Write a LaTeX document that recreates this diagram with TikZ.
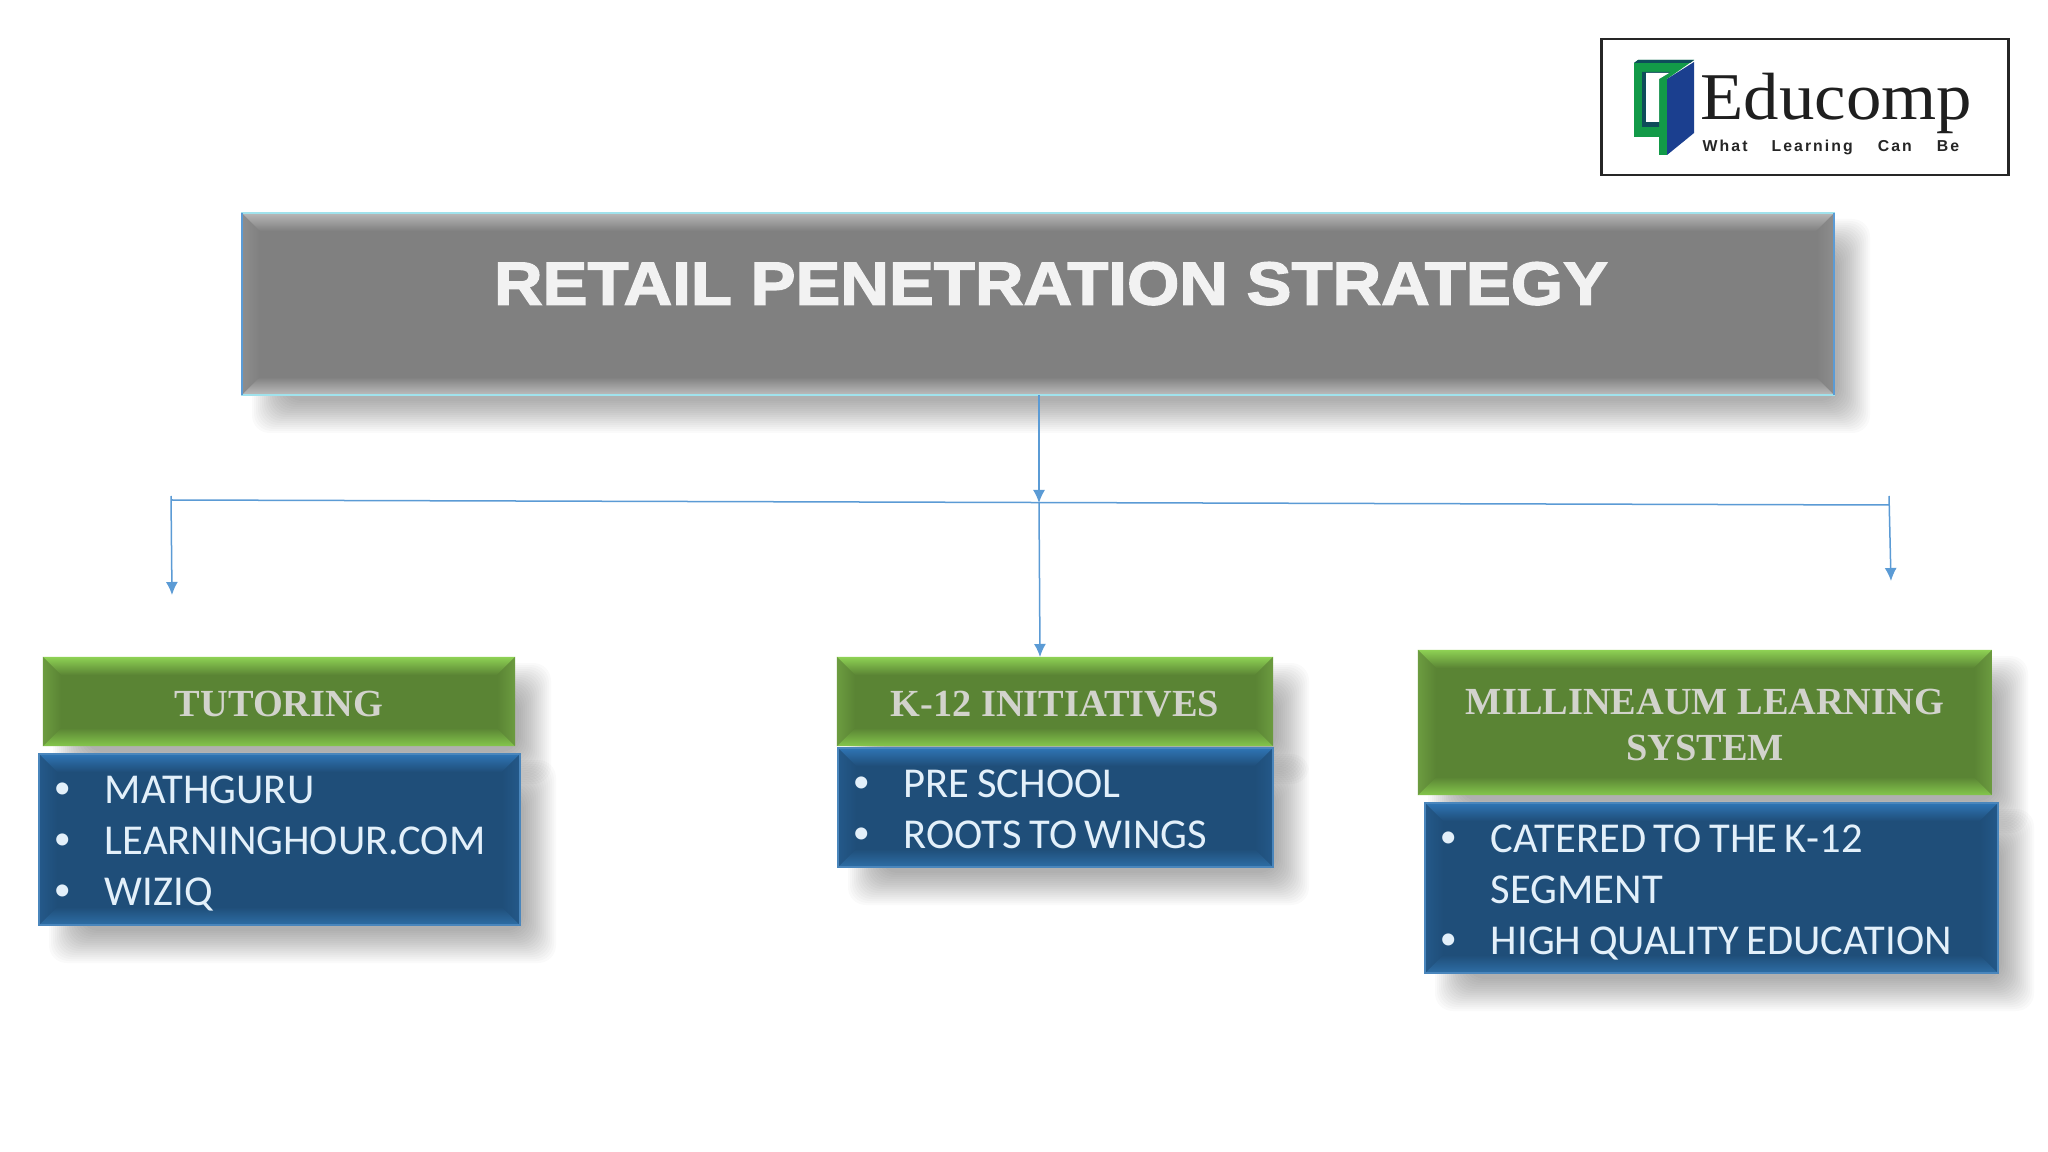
\documentclass[tikz,border=0pt]{standalone}
\usepackage{fontspec}
\setmainfont{Carlito}
\newfontfamily\titlefont{Liberation Sans Bold}[FakeStretch=1.106,FakeBold=2.2]
\newfontfamily\headfont{Liberation Serif Bold}
\newfontfamily\logofont{Liberation Serif}[FakeStretch=1.06]
\newfontfamily\tagfont{Liberation Sans Bold}[LetterSpace=13]
\usetikzlibrary{arrows.meta}
\definecolor{linkblue}{HTML}{5B9BD5}
\definecolor{listtext}{HTML}{E3F0FA}
\definecolor{headtext}{HTML}{D2D3CC}
\definecolor{logogreen}{HTML}{129A48}
\definecolor{logoblue}{HTML}{1B3F8F}
\definecolor{logoteal}{HTML}{0E4C5A}
\definecolor{greybody}{HTML}{808080}
\definecolor{greyedge}{HTML}{B8B8B8}
\definecolor{greylow}{HTML}{BDBDBD}
\definecolor{greyside}{HTML}{8E8E8E}
\definecolor{greyline}{HTML}{A0E2EC}
\definecolor{greenbody}{HTML}{5A8434}
\definecolor{greenedge}{HTML}{8ED154}
\definecolor{greenlow}{HTML}{84C64C}
\definecolor{greenside}{HTML}{6C9C40}
\definecolor{bluebody}{HTML}{1F4E79}
\definecolor{blueedge}{HTML}{2F75B5}
\definecolor{bluelow}{HTML}{2E6EA6}
\definecolor{blueside}{HTML}{24598A}
\definecolor{blueline}{HTML}{4A86BC}
\tikzset{
  % bevel: body colour, outer edge top, outer edge bottom, outer edge sides, depth
  panel/.style n args={5}{
    inner sep=0pt, outer sep=0pt, fill=#1,
    path picture={
      \coordinate (nw) at (path picture bounding box.north west);
      \coordinate (se) at (path picture bounding box.south east);
      \coordinate (ne) at (path picture bounding box.north east);
      \coordinate (sw) at (path picture bounding box.south west);
      \path[top color=#2,bottom color=#1]
        (nw) -- (ne) -- ([xshift=-#5,yshift=-#5]ne) -- ([xshift=#5,yshift=-#5]nw) -- cycle;
      \path[bottom color=#3,top color=#1]
        (sw) -- (se) -- ([xshift=-#5,yshift=#5]se) -- ([xshift=#5,yshift=#5]sw) -- cycle;
      \path[left color=#4,right color=#1]
        (nw) -- (sw) -- ([xshift=#5,yshift=#5]sw) -- ([xshift=#5,yshift=-#5]nw) -- cycle;
      \path[right color=#4,left color=#1]
        (ne) -- (se) -- ([xshift=-#5,yshift=#5]se) -- ([xshift=-#5,yshift=-#5]ne) -- cycle;
    }},
  greybox/.style={panel={greybody}{greyedge}{greylow}{greyside}{0.18cm},draw=greyline,line width=0.2mm},
  greenbox/.style={panel={greenbody}{greenedge}{greenlow}{greenside}{0.18cm}},
  bluebox/.style={panel={bluebody}{blueedge}{bluelow}{blueside}{0.18cm},draw=blueline,line width=0.15mm},
  headtxt/.style={font=\headfont\fontsize{10.9}{13.2}\selectfont,text=headtext,align=center},
  listtxt/.style={font=\fontsize{12.1}{14.5}\selectfont,text=listtext,align=left},
  link/.style={linkblue,line width=0.15mm},
  linkarrow/.style={link,-{Latex[length=1.3mm,width=1.2mm]}}
}
% name, x1, y1, x2, y2, style, text (reference pixels)
\newcommand{\panelbox}[7]{
  \foreach \g in {16,14,...,-16}
    \fill[black,opacity=0.021,rounded corners=5]
      (#2+26+\g,#3+22+\g) rectangle (#4+20-\g,#5+22-\g);
  \pgfmathsetmacro{\pw}{(#4-#2)/100}
  \pgfmathsetmacro{\ph}{(#5-#3)/100}
  \node[#6,minimum width=\pw cm,minimum height=\ph cm] (#1) at ({(#2+#4)/2},{(#3+#5)/2}) {#7};
}
\newcommand{\itembullet}{\raisebox{0.25ex}{\scalebox{0.8}{\textbullet}}}
\newcommand{\headlines}[1]{\raisebox{-0.156cm}[0pt][0pt]{\begin{tabular}{@{}c@{}}#1\end{tabular}}}
\newcommand{\listlines}[1]{\raisebox{-0.156cm}[0pt][0pt]{\spaceskip=0.18em\relax\begin{tabular}{@{}l@{\hspace{0.34cm}}l@{}}#1\end{tabular}}}
\begin{document}
\begin{tikzpicture}[x=0.01cm,y=-0.01cm]
  \useasboundingbox (0,0) rectangle (2048,1152);
  \fill[white] (0,0) rectangle (2048,1152);

  % - Logo
  \node[draw=black!85,line width=0.25mm,minimum width=4.07cm,minimum height=1.36cm,inner sep=0pt] (logo) at (1805,107) {};
  \fill[logogreen] (1634,63) -- (1638,60) -- (1694,60) -- (1667,79) -- (1667,155) -- (1659,155) -- (1659,137) -- (1634,137) -- cycle;
  \fill[logoteal] (1634,63) -- (1638,60) -- (1694,60) -- (1690,63) -- cycle;
  \fill[logoteal] (1642,72) -- (1670,72) -- (1659,79) -- (1659,127) -- (1642,127) -- cycle;
  \fill[white] (1646,73) -- (1669,73) -- (1659,79) -- (1659,122) -- (1646,122) -- cycle;
  \fill[logoblue] (1667,79) -- (1694,62) -- (1694,133) -- (1667,155) -- cycle;
  \node[font=\logofont\fontsize{19}{21}\selectfont,text=black!88,anchor=base west,inner sep=0pt] (logoname) at (1700,120) {Educomp};
  \node[font=\tagfont\fontsize{4.5}{5}\selectfont,text=black!85,anchor=base west,inner sep=0pt] (logotag) at (1702,152) {What\hspace{2.4mm}Learning\hspace{2.5mm}Can\hspace{2.5mm}Be};

  % - Title box
  \panelbox{title}{242}{213}{1834}{395}{greybox}{\raisebox{-0.006cm}[0pt][0pt]{\hspace*{0.26cm}\titlefont\fontsize{17.3}{20}\selectfont\textcolor{white!95!black}{RETAIL PENETRATION STRATEGY}}}
  \draw[linkblue,line width=0.2mm] (title.north west) -- (title.south west);
  \draw[linkblue,line width=0.2mm] (title.north east) -- (title.south east);

  % - Column boxes
  \panelbox{tutorhead}{43}{657}{515}{746}{greenbox,headtxt}{\headlines{TUTORING}}
  \panelbox{tutorlist}{39}{754}{520}{925}{bluebox,listtxt,text width=4.51cm,inner xsep=0.15cm}{%
    \listlines{\itembullet & MATHGURU\\ \itembullet & LEARNINGHOUR.COM\\ \itembullet & WIZIQ}}
  \panelbox{khead}{837}{657}{1273}{746}{greenbox,headtxt}{\headlines{K-12 INITIATIVES}}
  \panelbox{klist}{838}{748}{1273}{867}{bluebox,listtxt,text width=4.05cm,inner xsep=0.15cm}{%
    \listlines{\itembullet & PRE SCHOOL\\ \itembullet & ROOTS TO WINGS}}
  \panelbox{milhead}{1418}{650}{1992}{795}{greenbox,headtxt}{\headlines{MILLINEAUM LEARNING\\SYSTEM}}
  \panelbox{millist}{1425}{803}{1998}{973}{bluebox,listtxt,text width=5.43cm,inner xsep=0.15cm}{%
    \listlines{\itembullet & CATERED TO THE K-12\\ & SEGMENT\\ \itembullet & HIGH QUALITY EDUCATION}}

  % - Connector ends
  \coordinate (busleft)  at (172,500);
  \coordinate (busmid)   at (1039,503);
  \coordinate (busright) at (1889,505);
  \coordinate (leftend)  at (172,595);
  \coordinate (rightend) at (1891,581);
  \coordinate (midend)   at (1040,657);

  % - Connectors
  \draw[linkarrow] (title.south) ++(1,0) -- (busmid);
  \draw[link] (busleft) -- (busright);
  \draw[linkarrow] (busmid) -- (midend);
  \draw[linkarrow] (171,496) -- (leftend);
  \draw[linkarrow] (1889,496) -- (rightend);
\end{tikzpicture}
\end{document}
